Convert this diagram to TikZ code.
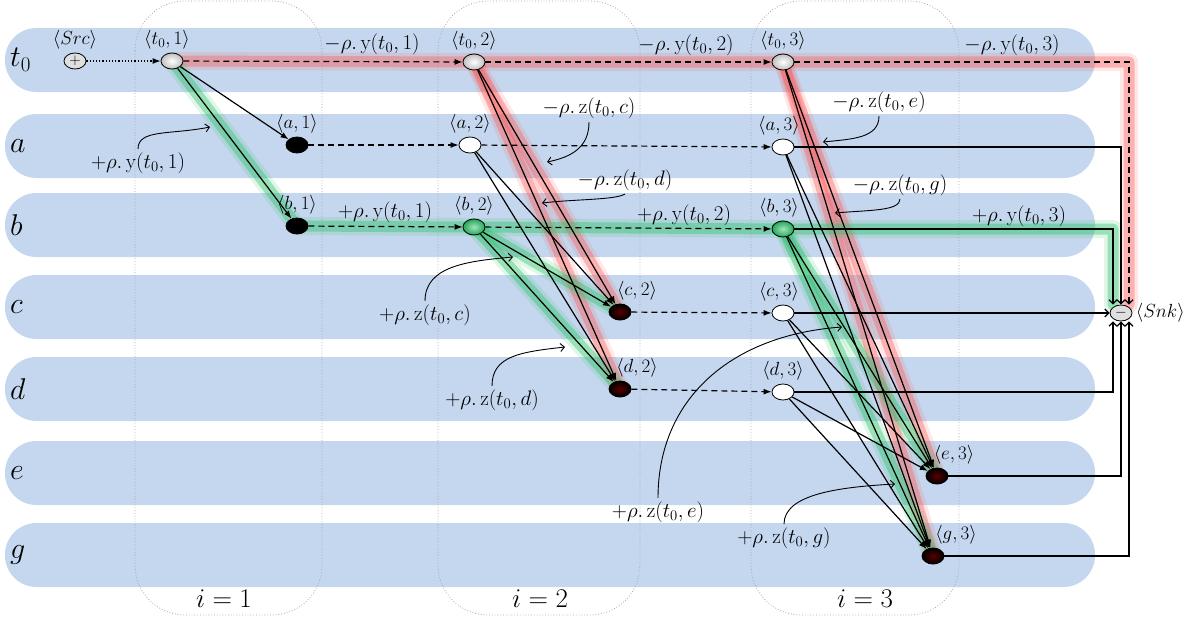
\RequirePackage{fix-cm}
\documentclass[tikz,border=0pt]{standalone}
\usepackage{amsmath}
\usepackage{tikz}
\usetikzlibrary{arrows.meta,shapes.geometric,positioning}

\definecolor{bandblue}{RGB}{197,215,238}
\definecolor{glowred}{RGB}{250,95,95}
\definecolor{glowgreen}{RGB}{45,195,105}

\pgfdeclarelayer{back}
\pgfdeclarelayer{glow}
\pgfsetlayers{back,glow,main}

\tikzset{
  vert/.style={ellipse, draw, line width=0.8pt, minimum width=22pt, minimum height=16pt, inner sep=0pt},
  tvert/.style={vert, inner color=white, outer color=gray!50},
  overt/.style={vert, fill=white},
  kvert/.style={vert, fill=black},
  gvert/.style={vert, inner color=glowgreen!45!white, outer color=glowgreen!85!black},
  rvert/.style={vert, inner color=red!35!black, outer color=black},
  term/.style={vert, fill=gray!25, font=\fontsize{15}{15}\selectfont},
  nlab/.style={font=\fontsize{19}{21}\selectfont},
  rlab/.style={nlab, xshift=17pt},
  anno/.style={font=\fontsize{21}{23}\selectfont},
  rowlab/.style={font=\fontsize{30}{32}\selectfont, anchor=west, inner sep=0pt},
  collab/.style={font=\fontsize{27}{29}\selectfont},
  flow/.style={line width=1.2pt, -{Latex[length=8pt,width=6pt]}},
  carry/.style={flow, dash pattern=on 6pt off 4pt},
  tosnk/.style={line width=1.2pt, -{Straight Barb[length=4pt,width=8pt]}},
  note/.style={line width=0.9pt, -{Straight Barb[length=4pt,width=8pt]}},
  colbox/.style={draw=gray!70, dotted, line width=0.8pt, rounded corners=50pt},
  redglow/.style={draw=glowred, line width=11pt, opacity=.4, line cap=round, line join=round,
    preaction={draw=glowred, line width=18pt, opacity=.15, line cap=round, line join=round}},
  greenglow/.style={draw=glowgreen, line width=11pt, opacity=.4, line cap=round, line join=round,
    preaction={draw=glowgreen, line width=18pt, opacity=.15, line cap=round, line join=round}}
}

\begin{document}
\begin{tikzpicture}[x=1pt, y=-1pt]
    \useasboundingbox (0,0) rectangle (1193,626);

    % Rows and iteration columns
    \begin{pgfonlayer}{back}
    \foreach \y/\r/\n in {60/t_0/t, 146/a/a, 225/b/b, 307/c/c, 389/d/d, 473/e/e, 555/g/g} {
        \fill[bandblue, rounded corners=31.5pt] (5,\y-32) rectangle (1095,\y+32);
        \node[rowlab] (row-\n) at (10,\y) {$\r$};
    }
    \draw[colbox] (135,1) rectangle (322,615);
    \draw[colbox] (438,1) rectangle (640,615);
    \draw[colbox] (751,1) rectangle (959,615);
    \end{pgfonlayer}
    \node[collab] (col1) at (224,599) {$i=1$};
    \node[collab] (col2) at (540,599) {$i=2$};
    \node[collab] (col3) at (865,599) {$i=3$};

    % Vertices
    \node[term, label={[nlab]above:{$\langle Src\rangle$}}] (src) at (75,61) {$+$};
    \node[tvert, label={[nlab, xshift=-5pt]above:{$\langle t_0,1\rangle$}}] (t01) at (172,61) {};
    \node[kvert, label={[nlab]above:{$\langle a,1\rangle$}}] (a1) at (297,145) {};
    \node[kvert, label={[nlab]above:{$\langle b,1\rangle$}}] (b1) at (297,226) {};
    \node[tvert, label={[nlab]above:{$\langle t_0,2\rangle$}}] (t02) at (474,62) {};
    \node[overt, label={[nlab]above:{$\langle a,2\rangle$}}] (a2) at (470,145) {};
    \node[gvert, label={[nlab]above:{$\langle b,2\rangle$}}] (b2) at (474,227) {};
    \node[rvert, label={[rlab]above:{$\langle c,2\rangle$}}] (c2) at (620,312) {};
    \node[rvert, label={[rlab]above:{$\langle d,2\rangle$}}] (d2) at (620,389) {};
    \node[tvert, label={[nlab]above:{$\langle t_0,3\rangle$}}] (t03) at (783,62) {};
    \node[overt, label={[nlab, xshift=-4pt]above:{$\langle a,3\rangle$}}] (a3) at (783,147) {};
    \node[gvert, label={[nlab, xshift=-4pt]above:{$\langle b,3\rangle$}}] (b3) at (783,229) {};
    \node[overt, label={[nlab, xshift=-4pt]above:{$\langle c,3\rangle$}}] (c3) at (783,313) {};
    \node[overt, label={[nlab]above:{$\langle d,3\rangle$}}] (d3) at (783,392) {};
    \node[rvert, label={[rlab]above:{$\langle e,3\rangle$}}] (e3) at (937,476) {};
    \node[rvert, label={[rlab, xshift=6pt]above:{$\langle g,3\rangle$}}] (g3) at (933,556) {};
    \node[term, label={[nlab]right:{$\langle Snk\rangle$}}] (snk) at (1121,313) {$-$};

    % Highlighted paths
    \begin{pgfonlayer}{glow}
    \draw[redglow] (t01.center) -- (t02.center) -- (t03.center) -| ([xshift=8pt]snk.north);
    \draw[redglow] (t02.center) -- (c2.center);
    \draw[redglow] (t02.center) -- (d2.center);
    \draw[redglow] (t03.center) -- (e3.center);
    \draw[redglow] (t03.center) -- (g3.center);
    \draw[greenglow] (t01.center) -- (b1.center) -- (b2.center) -- (b3.center) -| ([xshift=-8pt]snk.north);
    \draw[greenglow] (b2.center) -- (c2.center);
    \draw[greenglow] (b2.center) -- (d2.center);
    \draw[greenglow] (b3.center) -- (e3.center);
    \draw[greenglow] (b3.center) -- (g3.center);
    \end{pgfonlayer}

    % Edges
    \draw[line width=1.2pt, dotted, -{Latex[length=8pt,width=6pt]}] (src) -- (t01);
    \draw[carry] (t01) -- (t02);
    \draw[carry] (t02) -- (t03);
    \draw[carry, tosnk] (t03) -| ([xshift=8pt]snk.north);
    \draw[flow] (t01) -- (a1);
    \draw[flow] (t01) -- (b1);
    \draw[carry] (a1) -- (a2);
    \draw[carry] (a2) -- (a3);
    \draw[carry] (b1) -- (b2);
    \draw[carry] (b2) -- (b3);
    \foreach \s in {t02,a2,b2}
        \foreach \t in {c2,d2}
            \draw[flow] (\s) -- (\t);
    \draw[carry] (c2) -- (c3);
    \draw[carry] (d2) -- (d3);
    \foreach \s in {t03,a3,b3,c3,d3}
        \foreach \t in {e3,g3}
            \draw[flow] (\s) -- (\t);
    \draw[tosnk] (b3) -| ([xshift=-8pt]snk.north);
    \draw[tosnk] (a3) -| (snk.north);
    \draw[tosnk] (c3) -- (snk);
    \draw[tosnk] (d3) -| ([xshift=-8pt]snk.south);
    \draw[tosnk] (e3) -| (snk.south);
    \draw[tosnk] (g3) -| ([xshift=8pt]snk.south);

    % Edge weights
    \node[anno] (wy1) at (372,44) {$-\rho.\,\mathrm{y}(t_0,1)$};
    \node[anno] (wy2) at (686,45) {$-\rho.\,\mathrm{y}(t_0,2)$};
    \node[anno] (wy3) at (1012,45) {$-\rho.\,\mathrm{y}(t_0,3)$};
    \node[anno] (vy1) at (385,212) {$+\rho.\,\mathrm{y}(t_0,1)$};
    \node[anno] (vy2) at (684,215) {$+\rho.\,\mathrm{y}(t_0,2)$};
    \node[anno] (vy3) at (1019,216) {$+\rho.\,\mathrm{y}(t_0,3)$};

    % Weights with pointers
    \node[anno] (py1) at (138,163) {$+\rho.\,\mathrm{y}(t_0,1)$};
    \coordinate (ay1) at (210,127);
    \draw[note] (py1.north) .. controls +(0,-20) and +(-40,8) .. (ay1);
    \node[anno] (mzc) at (589,108) {$-\rho.\,\mathrm{z}(t_0,c)$};
    \coordinate (azc) at (547,162);
    \draw[note] (mzc.south) .. controls +(0,25) and +(25,-5) .. (azc);
    \node[anno] (mzd) at (625,180) {$-\rho.\,\mathrm{z}(t_0,d)$};
    \coordinate (azd) at (542,203);
    \draw[note] (mzd.south) .. controls +(-10,6) and +(35,-4) .. (azd);
    \node[anno] (mze) at (879,102) {$-\rho.\,\mathrm{z}(t_0,e)$};
    \coordinate (aze) at (823,142);
    \draw[note] (mze.south) .. controls +(0,22) and +(30,-3) .. (aze);
    \node[anno] (mzg) at (900,185) {$-\rho.\,\mathrm{z}(t_0,g)$};
    \coordinate (azg) at (835,213);
    \draw[note] (mzg.south) .. controls +(0,12) and +(35,-3) .. (azg);
    \node[anno] (pzc) at (425,315) {$+\rho.\,\mathrm{z}(t_0,c)$};
    \coordinate (bzc) at (513,257);
    \draw[note] (pzc.north) .. controls +(0,-35) and +(-45,4) .. (bzc);
    \node[anno] (pzd) at (492,400) {$+\rho.\,\mathrm{z}(t_0,d)$};
    \coordinate (bzd) at (565,347);
    \draw[note] (pzd.north) .. controls +(0,-30) and +(-45,5) .. (bzd);
    \node[anno] (pze) at (658,512) {$+\rho.\,\mathrm{z}(t_0,e)$};
    \coordinate (bze) at (842,327);
    \draw[note] (pze.north) .. controls +(0,-100) and +(-110,8) .. (bze);
    \node[anno] (pzg) at (784,538) {$+\rho.\,\mathrm{z}(t_0,g)$};
    \coordinate (bzg) at (895,484);
    \draw[note] (pzg.north) .. controls +(0,-30) and +(-55,3) .. (bzg);
\end{tikzpicture}
\end{document}
